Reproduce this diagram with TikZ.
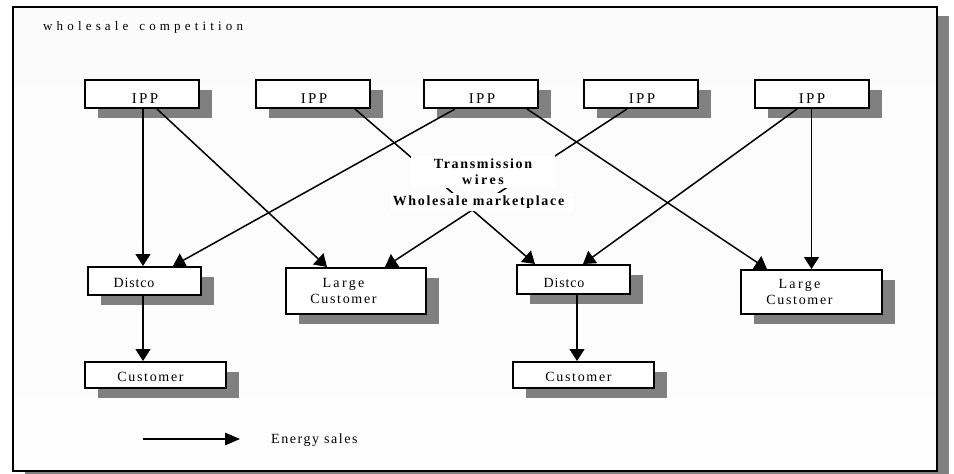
\documentclass[tikz,border=0pt]{standalone}
\usepackage{fontspec}
\setmainfont{Liberation Serif}
\usetikzlibrary{arrows.meta,shadows}
\definecolor{shadowgray}{HTML}{808080}
\definecolor{bgtop}{HTML}{FBFBFB}
\definecolor{bgmid}{HTML}{E2E2E2}
\definecolor{bgbot}{HTML}{FEFEFE}
\newcommand{\spaced}[1]{\addfontfeatures{LetterSpace=#1}}

\begin{document}
\begin{tikzpicture}[x=1pt,y=-1pt,
  every node/.style={font=\fontsize{14}{16}\selectfont},
  boxnode/.style={draw, line width=2pt, fill=white, inner sep=0pt,
    drop shadow={shadow xshift=13pt, shadow yshift=-10pt, fill=shadowgray, opacity=1}},
  ippbox/.style={boxnode, minimum width=114pt, minimum height=28pt},
  distbox/.style={boxnode, minimum width=113pt, minimum height=28pt},
  largebox/.style={boxnode, minimum width=140pt, minimum height=45pt},
  custbox/.style={boxnode, minimum width=141pt, minimum height=26pt},
  txt/.style={anchor=base, inner sep=0pt},
  ipptxt/.style={txt, font=\fontsize{15}{16}\selectfont\spaced{16}},
  labelbox/.style={fill=white, inner sep=0pt, align=center,
    font=\fontsize{14}{16}\selectfont\bfseries},
  flow/.style={line width=1.5pt, -{Triangle[length=12pt,width=15pt]}},
]
\useasboundingbox (0,0) rectangle (954,474);

% outer panel: shadow, graded background, border
\fill[shadowgray] (25,16) rectangle (949,490);
\shade[top color=bgtop, middle color=bgmid, bottom color=bgbot] (13,7) rectangle (937,471);
\draw[line width=2.5pt] (13,7) rectangle (937,471);

\node[anchor=base west, inner sep=0pt, font=\fontsize{13}{14}\selectfont\spaced{32}]
  (title) at (43,30.5) {wholesale\hspace*{3.5pt} competition};

% generators
\node[ippbox] (ipp1) at (141.5,94) {};
\node[ippbox] (ipp2) at (312.5,94) {};
\node[ippbox] (ipp3) at (481,94) {};
\node[ippbox] (ipp4) at (641,94) {};
\node[ippbox] (ipp5) at (811.5,94) {};
\node[ipptxt] (ipp1-t) at (145,103.5) {IPP};
\node[ipptxt] (ipp2-t) at (314,103.5) {IPP};
\node[ipptxt] (ipp3-t) at (482,103.5) {IPP};
\node[ipptxt] (ipp4-t) at (642,103.5) {IPP};
\node[ipptxt] (ipp5-t) at (812,103.5) {IPP};

% distribution companies and large customers
\node[distbox] (dist1) at (144,281) {};
\node[distbox, minimum height=29pt] (dist2) at (573.5,279.5) {};
\node[txt, font=\fontsize{14}{16}\selectfont\spaced{6}] (dist1-t) at (134,287) {Distco};
\node[txt, font=\fontsize{14}{16}\selectfont\spaced{6}] (dist2-t) at (564,287) {Distco};

\node[largebox, minimum height=46pt] (large1) at (356,291) {};
\node[largebox, minimum width=141pt, minimum height=44pt] (large2) at (811.5,292) {};
\node[txt] (large1-t) at (343.5,287)
  {\begin{tabular}[t]{@{}c@{}}{\spaced{17}Large}\\{\spaced{12}Customer}\end{tabular}};
\node[txt] (large2-t) at (799.5,288)
  {\begin{tabular}[t]{@{}c@{}}{\spaced{17}Large}\\{\spaced{12}Customer}\end{tabular}};

% retail customers
\node[custbox] (cust1) at (155.5,375) {};
\node[custbox] (cust2) at (583.5,375) {};
\node[txt, font=\fontsize{14}{16}\selectfont\spaced{12}] (cust1-t) at (150.5,381) {Customer};
\node[txt, font=\fontsize{14}{16}\selectfont\spaced{12}] (cust2-t) at (578.5,381) {Customer};

% energy sales
\draw[flow] ([xshift=1.5pt]ipp1.south) -- ([xshift=-1pt]dist1.north);
\draw[flow] ([xshift=15.5pt]ipp1.south) -- ([xshift=-29pt]large1.north);
\draw[flow] ([xshift=-26pt]ipp3.south) -- ([xshift=29pt]dist1.north);
\draw[flow] ([xshift=42.5pt]ipp2.south) -- ([xshift=-38.5pt]dist2.north);
\draw[flow] ([xshift=-14pt]ipp4.south) -- ([xshift=29pt]large1.north);
\draw[flow] ([xshift=46pt]ipp3.south) -- ([xshift=-44.5pt]large2.north);
\draw[flow] ([xshift=-14.5pt]ipp5.south) -- ([xshift=9.5pt]dist2.north);
\draw[flow] (ipp5.south) -- (large2.north);
\draw[flow] ([xshift=-1pt]dist1.south) -- ([xshift=-12.5pt]cust1.north);
\draw[flow] ([xshift=3.5pt]dist2.south) -- ([xshift=-6.5pt]cust2.north);

% market labels over the crossing wires
\node[labelbox, minimum width=144pt, minimum height=33pt] (wires) at (483,171.5)
  {{\spaced{12}Transmission}\\{\spaced{18}wires}};
\node[labelbox, minimum width=182pt, minimum height=18pt] (market) at (482,202)
  {\hspace*{-7pt}{\spaced{12}Wholesale marketplace}};

% legend
\coordinate (leg-a) at (143,439);
\coordinate (leg-b) at (240,439);
\draw[line width=1.5pt, -{Triangle[length=15pt,width=12.5pt]}] (leg-a) -- (leg-b);
\node[anchor=base west, inner sep=0pt, font=\fontsize{14}{16}\selectfont\spaced{11}]
  (leg-t) at (271,443) {Energy sales};
\end{tikzpicture}
\end{document}
